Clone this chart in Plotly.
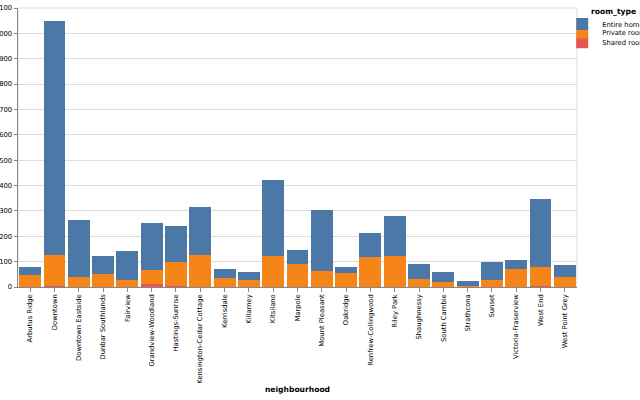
import plotly.graph_objects as go

neighbourhoods = [
    "Arbutus Ridge", "Downtown", "Downtown Eastside", "Dunbar Southlands", "Fairview",
    "Grandview-Woodland", "Hastings-Sunrise", "Kensington-Cedar Cottage", "Kerrisdale",
    "Killarney", "Kitsilano", "Marpole", "Mount Pleasant", "Oakridge",
    "Renfrew-Collingwood", "Riley Park", "Shaughnessy", "South Cambie", "Strathcona",
    "Sunset", "Victoria-Fraserview", "West End", "West Point Grey",
]
room_types = ["Entire home/apt", "Private room", "Shared room"]

# counts per neighbourhood
shared_room = [0, 5, 1, 0, 1, 10, 3, 1, 0, 0, 1, 0, 1, 0, 1, 1, 0, 0, 1, 0, 0, 2, 0]
private_room = [47, 120, 37, 50, 27, 57, 97, 124, 34, 28, 122, 92, 61, 54, 116, 122, 31, 20, 4, 29, 70, 77, 41]
entire_home = [33, 925, 227, 73, 113, 185, 140, 189, 36, 32, 299, 53, 240, 25, 95, 158, 58, 38, 17, 71, 36, 267, 45]

colors = ["#4c78a8", "#f58518", "#e45756"]
font = "DejaVu Sans"
lab_size = 6.8
title_size = 7.6

fig = go.Figure()
# stacking order: shared at bottom, private, entire on top
for name, vals, col, leg in [
    (room_types[2], shared_room, colors[2], "legend4"),
    (room_types[1], private_room, colors[1], "legend3"),
    (room_types[0], entire_home, colors[0], "legend2"),
]:
    fig.add_trace(go.Bar(
        x=neighbourhoods, y=vals, name=name, legend=leg,
        marker=dict(color=col, line=dict(width=0)),
    ))

def leg(y):
    return dict(
        x=0.9735, y=y, xanchor="left", yanchor="top",
        font=dict(size=lab_size, family=font, color="#000"),
        bgcolor="rgba(0,0,0,0)", borderwidth=0,
        itemwidth=30,
    )

fig.update_layout(
    barmode="stack",
    bargap=0.1,
    width=640, height=400,
    margin=dict(l=18, r=63, t=8, b=113, autoexpand=False),
    paper_bgcolor="white", plot_bgcolor="white",
    font=dict(family=font, size=lab_size, color="#000"),
    legend2=leg(0.995),
    legend3=leg(0.964),
    legend4=leg(0.929),
    annotations=[dict(
        text="<b>room_type</b>", xref="paper", yref="paper",
        x=1.0215, y=0.9857, xanchor="left", yanchor="middle",
        showarrow=False, font=dict(size=title_size, family=font, color="#000"),
    )],
    xaxis=dict(
        type="category",
        tickangle=-90,
        ticks="outside", ticklen=3.5, tickcolor="#888",
        showline=True, linecolor="#888", linewidth=1,
        showgrid=False,
        tickfont=dict(size=lab_size, family=font, color="#000"),
        title=dict(text="<b>neighbourhood</b>", font=dict(size=title_size, family=font, color="#000"), standoff=3),
    ),
    yaxis=dict(
        range=[0, 1100],
        dtick=100,
        tickformat=",",
        ticks="outside", ticklen=3.5, tickcolor="#888",
        showline=True, linecolor="#888", linewidth=1,
        showgrid=True, gridcolor="#ddd", gridwidth=1,
        zeroline=False,
        tickfont=dict(size=lab_size, family=font, color="#000"),
    ),
    shapes=[dict(type="rect", xref="paper", yref="paper", x0=0, x1=1, y0=0, y1=1,
                 line=dict(color="#ddd", width=1), layer="below")],
)

fig.write_html("out.html", config={"displayModeBar": False},
               post_script="document.body.style.margin='0';")
